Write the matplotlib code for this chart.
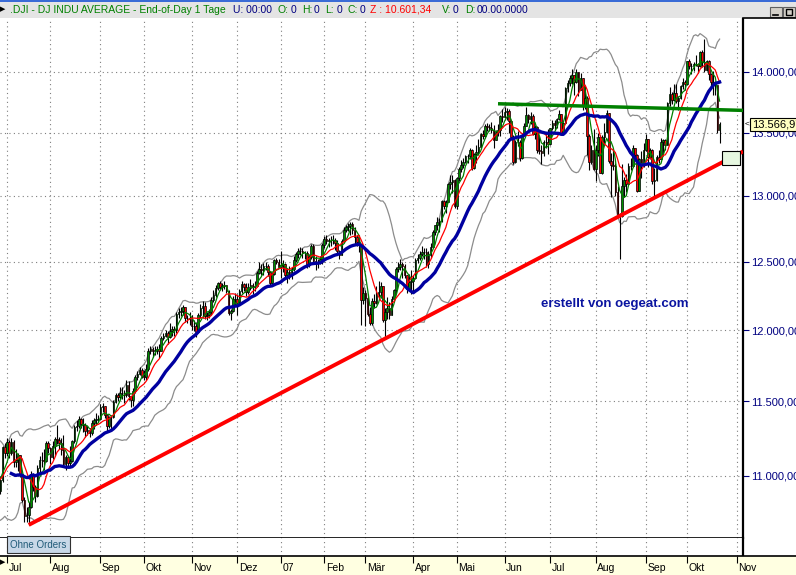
import numpy as np
import pandas as pd
import matplotlib
matplotlib.use('Agg')
import matplotlib.pyplot as plt
import matplotlib.transforms as mtransforms
from matplotlib.patches import Rectangle
from matplotlib.lines import Line2D
from matplotlib.ticker import FixedLocator, FixedFormatter, NullLocator, NullFormatter

plt.rcParams['font.family'] = ['Liberation Sans', 'DejaVu Sans']

W, H = 796, 575

# NYSE holidays in the range (trading-day axis)
holidays = ['2006-07-04', '2006-09-04', '2006-11-23', '2006-12-25', '2007-01-01', '2007-01-02',
            '2007-01-15', '2007-02-19', '2007-04-06', '2007-05-28', '2007-07-04', '2007-09-03']
first_day = '2006-06-01'

# daily OHLC, one row per month (Jun 2006 .. 22 Oct 2007)
opens = [
    11168, 11260, 11247, 11061, 11002, 10931, 10938, 10891, 10792, 10706, 10816, 11015, 10891, 10942, 10974, 11079, 10990, 10989, 11045, 10903, 10973, 11190,
    11150, 11228, 11151, 11226, 11090, 11103, 11135, 11013, 10846, 10739, 10747, 10799, 11011, 10928, 10868, 11051, 11103, 11102, 11100, 11219,
    11185, 11125, 11199, 11242, 11240, 11220, 11173, 11076, 11124, 11088, 11097, 11230, 11327, 11334, 11381, 11345, 11339, 11297, 11304, 11284, 11352, 11370, 11382,
    11381, 11464, 11469, 11406, 11331, 11392, 11396, 11498, 11543, 11527, 11560, 11556, 11541, 11613, 11534, 11508, 11575, 11669, 11689, 11718,
    11679, 11670, 11727, 11851, 11867, 11851, 11857, 11867, 11852, 11947, 11961, 11980, 11950, 11993, 12011, 12003, 12116, 12127, 12134, 12164, 12090, 12087,
    12081, 12032, 12032, 11986, 12105, 12156, 12176, 12103, 12109, 12132, 12218, 12251, 12305, 12342, 12316, 12321, 12327, 12280, 12121, 12136, 12226,
    12221, 12194, 12283, 12331, 12310, 12278, 12307, 12329, 12315, 12317, 12416, 12446, 12441, 12471, 12464, 12421, 12343, 12407, 12510, 12501,
    12463, 12474, 12480, 12398, 12423, 12416, 12442, 12514, 12556, 12582, 12577, 12567, 12565, 12477, 12533, 12621, 12502, 12487, 12491, 12523,
    12622, 12673, 12653, 12661, 12666, 12666, 12637, 12581, 12552, 12654, 12741, 12765, 12768, 12786, 12738, 12686, 12647, 12632, 12216,
    12268, 12234, 12114, 12050, 12207, 12192, 12260, 12276, 12318, 12075, 12133, 12159, 12110, 12226, 12288, 12447, 12461, 12481, 12469, 12398, 12300, 12348,
    12354, 12382, 12511, 12530, 12560, 12569, 12573, 12484, 12553, 12612, 12720, 12773, 12803, 12808, 12961, 12919, 12953, 13089, 13105, 13121,
    12921, 13136, 13211, 13241, 13265, 13313, 13310, 13362, 13215, 13327, 13346, 13383, 13487, 13476, 13556, 13542, 13539, 13522, 13441, 13507, 13521, 13633,
    13628, 13668, 13677, 13596, 13467, 13267, 13425, 13424, 13295, 13482, 13554, 13640, 13612, 13635, 13489, 13546, 13361, 13353, 13338, 13427, 13422,
    13409, 13535, 13577, 13566, 13611, 13649, 13501, 13577, 13861, 13908, 13951, 13972, 13918, 14000, 13851, 13944, 13717, 13786, 13474, 13266, 13359,
    13212, 13362, 13463, 13182, 13469, 13504, 13658, 13271, 13240, 13237, 13029, 12862, 12846, 13079, 13122, 13091, 13237, 13236, 13379, 13322, 13041, 13289, 13239,
    13358, 13449, 13306, 13364, 13113, 13127, 13308, 13292, 13424, 13442, 13403, 13739, 13816, 13766, 13821, 13759, 13779, 13878, 13913,
    13896, 14088, 14047, 14044, 14066, 14066, 14044, 14165, 14078, 14015, 14093, 13985, 13913, 13893, 13889, 13522,
]
highs = [
    11290, 11320, 11260, 11080, 11030, 10990, 10960, 10900, 10810, 10840, 11040, 11030, 10990, 11010, 11110, 11090, 11030, 11070, 11060, 11000, 11200, 11220,
    11250, 11240, 11250, 11240, 11180, 11150, 11140, 11020, 10860, 10800, 10830, 11030, 11020, 10940, 11070, 11130, 11160, 11180, 11230, 11230,
    11190, 11230, 11260, 11340, 11260, 11250, 11270, 11140, 11130, 11200, 11240, 11340, 11370, 11400, 11390, 11390, 11350, 11330, 11320, 11370, 11390, 11420, 11410,
    11480, 11490, 11470, 11410, 11400, 11410, 11510, 11560, 11560, 11600, 11600, 11580, 11650, 11640, 11540, 11590, 11680, 11710, 11740, 11730,
    11720, 11760, 11870, 11890, 11880, 11890, 11890, 11900, 11960, 11980, 12000, 11990, 12050, 12030, 12030, 12130, 12160, 12170, 12180, 12170, 12110, 12130,
    12110, 12070, 12060, 12120, 12190, 12210, 12200, 12130, 12150, 12240, 12290, 12330, 12350, 12360, 12340, 12360, 12330, 12290, 12150, 12250, 12270,
    12260, 12300, 12360, 12340, 12340, 12340, 12370, 12340, 12360, 12430, 12500, 12480, 12490, 12500, 12480, 12420, 12420, 12520, 12530, 12520,
    12580, 12510, 12490, 12450, 12470, 12460, 12540, 12570, 12600, 12610, 12600, 12580, 12580, 12560, 12630, 12630, 12540, 12520, 12540, 12640,
    12690, 12700, 12680, 12690, 12700, 12680, 12660, 12590, 12670, 12760, 12780, 12790, 12800, 12800, 12760, 12700, 12700, 12640, 12310,
    12290, 12260, 12170, 12230, 12260, 12320, 12360, 12350, 12320, 12160, 12240, 12200, 12250, 12300, 12460, 12500, 12520, 12500, 12480, 12400, 12410, 12440,
    12400, 12530, 12560, 12580, 12620, 12600, 12600, 12580, 12640, 12740, 12780, 12840, 12830, 12970, 12970, 12970, 13100, 13160, 13160, 13130,
    13150, 13230, 13280, 13300, 13320, 13330, 13380, 13370, 13340, 13400, 13450, 13500, 13520, 13570, 13580, 13570, 13590, 13560, 13520, 13570, 13640, 13690,
    13710, 13700, 13690, 13600, 13480, 13440, 13510, 13440, 13500, 13580, 13710, 13650, 13670, 13650, 13560, 13550, 13470, 13400, 13440, 13500, 13530,
    13540, 13600, 13600, 13620, 13680, 13650, 13590, 13870, 13930, 13970, 14020, 13970, 14020, 14000, 13990, 13950, 13890, 13800, 13490, 13400, 13530,
    13400, 13500, 13480, 13480, 13580, 13680, 13660, 13340, 13380, 13260, 13080, 12870, 13250, 13150, 13170, 13260, 13300, 13400, 13380, 13330, 13300, 13350, 13420,
    13490, 13450, 13380, 13370, 13220, 13320, 13360, 13460, 13450, 13450, 13750, 13870, 13830, 13900, 13900, 13800, 13890, 13950, 13930,
    14090, 14110, 14070, 14080, 14140, 14070, 14170, 14180, 14280, 14100, 14100, 13990, 14010, 13920, 13890, 13590,
]
lows = [
    11150, 11200, 11040, 10960, 10900, 10870, 10860, 10770, 10680, 10690, 10800, 10870, 10870, 10920, 10960, 10970, 10950, 10970, 10890, 10880, 10960, 11120,
    11130, 11120, 11140, 11060, 11060, 11030, 10990, 10830, 10700, 10700, 10683, 10790, 10900, 10830, 10860, 11020, 11060, 11040, 11090, 11150,
    11080, 11110, 11130, 11210, 11180, 11140, 11060, 11040, 11050, 11060, 11090, 11220, 11300, 11320, 11320, 11290, 11260, 11270, 11260, 11270, 11310, 11340, 11360,
    11370, 11430, 11390, 11300, 11320, 11300, 11390, 11490, 11500, 11520, 11520, 11490, 11530, 11510, 11460, 11470, 11560, 11650, 11680, 11660,
    11650, 11650, 11710, 11830, 11810, 11820, 11830, 11800, 11850, 11930, 11950, 11900, 11940, 11960, 11960, 11980, 12090, 12100, 12110, 12060, 12050, 12040,
    12000, 11990, 11950, 11980, 12090, 12090, 12080, 12070, 12090, 12110, 12200, 12240, 12290, 12290, 12280, 12300, 12270, 12110, 12070, 12130, 12180,
    12110, 12180, 12270, 12280, 12250, 12260, 12290, 12260, 12280, 12310, 12410, 12400, 12400, 12440, 12390, 12330, 12320, 12400, 12480, 12450,
    12380, 12420, 12370, 12340, 12370, 12370, 12430, 12500, 12530, 12550, 12530, 12520, 12450, 12460, 12520, 12480, 12440, 12450, 12480, 12480,
    12600, 12630, 12610, 12620, 12630, 12590, 12560, 12520, 12550, 12640, 12720, 12730, 12700, 12710, 12630, 12620, 12570, 12040, 12190,
    12030, 12100, 12040, 12040, 12160, 12190, 12230, 12230, 12060, 11940, 12080, 12080, 12110, 12200, 12270, 12420, 12440, 12380, 12380, 12270, 12280, 12260,
    12280, 12370, 12490, 12510, 12540, 12520, 12460, 12450, 12530, 12610, 12700, 12740, 12720, 12800, 12900, 12870, 12950, 13050, 13020, 12910,
    12900, 13120, 13190, 13220, 13260, 13260, 13290, 13200, 13210, 13260, 13320, 13370, 13450, 13460, 13510, 13510, 13500, 13380, 13440, 13470, 13470, 13590,
    13620, 13600, 13500, 13450, 13250, 13260, 13390, 13270, 13290, 13470, 13550, 13580, 13570, 13480, 13450, 13340, 13330, 13250, 13310, 13380, 13330,
    13400, 13520, 13520, 13540, 13600, 13480, 13490, 13570, 13830, 13880, 13900, 13810, 13910, 13800, 13850, 13680, 13690, 13320, 13200, 13250, 13200,
    13120, 13310, 13180, 13170, 13400, 13500, 13260, 12990, 13200, 13000, 12840, 12518, 12840, 12990, 13030, 13090, 13200, 13230, 13300, 13030, 13040, 13140, 13230,
    13350, 13230, 13290, 13090, 12990, 13120, 13260, 13290, 13310, 13360, 13400, 13720, 13730, 13760, 13740, 13680, 13770, 13860, 13850,
    13890, 14020, 13980, 14010, 14050, 13990, 14040, 14040, 14000, 14010, 13930, 13870, 13810, 13810, 13500, 13420,
]
closes = [
    11260, 11247, 11061, 11002, 10931, 10938, 10891, 10792, 10706, 10816, 11015, 10891, 10942, 10974, 11079, 10990, 10989, 11045, 10903, 10973, 11190, 11150,
    11228, 11151, 11226, 11090, 11103, 11135, 11013, 10846, 10739, 10747, 10799, 11011, 10928, 10868, 11051, 11103, 11102, 11100, 11219, 11185,
    11125, 11199, 11242, 11240, 11220, 11173, 11076, 11124, 11088, 11097, 11230, 11327, 11334, 11381, 11345, 11339, 11297, 11304, 11284, 11352, 11370, 11382, 11381,
    11464, 11469, 11406, 11331, 11392, 11396, 11498, 11543, 11527, 11560, 11556, 11541, 11613, 11534, 11508, 11575, 11669, 11689, 11718, 11679,
    11670, 11727, 11851, 11867, 11851, 11857, 11867, 11852, 11947, 11961, 11980, 11950, 11993, 12011, 12003, 12116, 12127, 12134, 12164, 12090, 12087, 12081,
    12032, 12032, 11986, 12105, 12156, 12176, 12103, 12109, 12132, 12218, 12251, 12305, 12342, 12316, 12321, 12327, 12280, 12121, 12136, 12226, 12221,
    12194, 12283, 12331, 12310, 12278, 12307, 12329, 12315, 12317, 12416, 12446, 12441, 12471, 12464, 12421, 12343, 12407, 12510, 12501, 12463,
    12474, 12480, 12398, 12423, 12416, 12442, 12514, 12556, 12582, 12577, 12567, 12565, 12477, 12533, 12621, 12502, 12487, 12491, 12523, 12622,
    12673, 12653, 12661, 12666, 12666, 12637, 12581, 12552, 12654, 12741, 12765, 12768, 12786, 12738, 12686, 12647, 12632, 12216, 12268,
    12234, 12114, 12050, 12207, 12192, 12260, 12276, 12318, 12075, 12133, 12159, 12110, 12226, 12288, 12447, 12461, 12481, 12469, 12398, 12300, 12348, 12354,
    12382, 12511, 12530, 12560, 12569, 12573, 12484, 12553, 12612, 12720, 12773, 12803, 12808, 12961, 12919, 12953, 13089, 13105, 13121, 12921,
    13136, 13211, 13241, 13265, 13313, 13310, 13362, 13215, 13327, 13346, 13383, 13487, 13476, 13556, 13542, 13539, 13522, 13441, 13507, 13521, 13633, 13628,
    13668, 13677, 13596, 13467, 13267, 13425, 13424, 13295, 13482, 13554, 13640, 13612, 13635, 13489, 13546, 13361, 13353, 13338, 13427, 13422, 13409,
    13535, 13577, 13566, 13611, 13649, 13501, 13577, 13861, 13908, 13951, 13972, 13918, 14000, 13851, 13944, 13717, 13786, 13474, 13266, 13359, 13212,
    13362, 13463, 13182, 13469, 13504, 13658, 13271, 13240, 13237, 13029, 12862, 12846, 13079, 13122, 13091, 13237, 13236, 13379, 13322, 13041, 13289, 13239, 13358,
    13449, 13306, 13364, 13113, 13127, 13308, 13292, 13424, 13442, 13403, 13739, 13816, 13766, 13821, 13759, 13779, 13878, 13913, 13896,
    14088, 14047, 14044, 14066, 14066, 14044, 14165, 14078, 14015, 14093, 13985, 13913, 13893, 13889, 13522, 13567,
]

month_labels = ['Jul', 'Aug', 'Sep', 'Okt', 'Nov', 'Dez', '07', 'Feb', 'Mär', 'Apr', 'Mai',
                'Jun', 'Jul', 'Aug', 'Sep', 'Okt', 'Nov']
yticks = [11000, 11500, 12000, 12500, 13000, 13500, 14000]
ytick_labels = ['11.000,00', '11.500,00', '12.000,00', '12.500,00', '13.000,00', '13.500,00', '14.000,00']
y_range = (10600, 14456)

# moving-average periods (fast green, mid red, slow blue) and Bollinger period
ma_fast, ma_mid, ma_slow, bb_len = 5, 10, 25, 20

# drawn lines (anchor points)
trend_dates = ['2006-07-18', '2007-03-14']
trend_values = [10683, 11939]
resist_dates = ['2007-05-29', '2007-10-22']
resist_values = [13735, 13686]
last_label = '13.566,97'

header_parts = [
    (10, '.DJI - DJ INDU AVERAGE - End-of-Day 1 Tage', '#008000'),
    (233, 'U: 00:00', '#000080'),
    (278, 'O:', '#008000'), (291, '0', '#000080'),
    (302, 'H:', '#008000'), (314, '0', '#000080'),
    (325, 'L:', '#008000'), (337, '0', '#000080'),
    (348, 'C:', '#008000'), (360, '0', '#000080'),
    (370, 'Z : 10.601,34', '#FF0000'),
    (442, 'V:', '#008000'), (453, '0', '#000080'),
    (465, 'D:', '#008000'), (477, '00.00.0000', '#000080'),
]

assert len(opens) == len(highs) == len(lows) == len(closes)


def fx(px):
    return px / W


def fy(py):
    return 1 - py / H


# trading-day index
days = pd.bdate_range(first_day, '2007-11-30', freq='C', holidays=holidays)
pos = pd.Series(np.arange(len(days)), index=days)
per = days.to_period('M')
month_first = pos.groupby(per).min()
month_first = month_first[(month_first.index >= pd.Period('2006-07', 'M')) &
                          (month_first.index <= pd.Period('2007-11', 'M'))]
tick_idx = month_first.values.astype(float)

ppd = (737 - 7) / (tick_idx[-1] - tick_idx[0])
x_left = tick_idx[0] - 7 / ppd
x_right = x_left + 743 / ppd

n = len(closes)
x = np.arange(n)
o = np.array(opens, float)
h = np.array(highs, float)
l = np.array(lows, float)
c = np.array(closes, float)

s = pd.Series(c)
ma_g = s.rolling(ma_fast).mean()
ma_r = s.rolling(ma_mid).mean()
ma_b = s.rolling(ma_slow).mean()
mid = s.rolling(bb_len).mean()
sd = s.rolling(bb_len).std(ddof=0)
bb_up = mid + 2 * sd
bb_lo = mid - 2 * sd

fig = plt.figure(figsize=(W / 100, H / 100), dpi=100)
fig.patch.set_facecolor('white')

ax = fig.add_axes([0, fy(538), fx(743), (538 - 18) / H])
axo = fig.add_axes([0, fy(556), fx(743), 18 / H])
axb = fig.add_axes([0, 0, 1, (H - 556) / H])

grid_kw = dict(color='#7f7f7f', linestyle=(0, (1, 3)), linewidth=0.8)

# ---- price panel
ax.set_yscale('log')
ax.set_xlim(x_left, x_right)
ax.set_ylim(*y_range)
ax.set_axisbelow(True)

ax.plot(x, bb_up, color='#8c8c8c', lw=0.9, zorder=1.5)
ax.plot(x, bb_lo, color='#8c8c8c', lw=0.9, zorder=1.5)

up = c > o
col = np.where(up, '#009000', '#FF0000')
ax.vlines(x, l, h, color='black', lw=0.8, zorder=2)
ax.bar(x, np.abs(c - o), bottom=np.minimum(o, c), width=0.75, color=col,
       edgecolor='black', linewidth=0.5, zorder=3)

ax.plot(x, ma_g, color='#008000', lw=0.9, zorder=4)
ax.plot(x, ma_r, color='#FF0000', lw=0.9, zorder=4)
ax.plot(x, ma_b, color='#0000A0', lw=2.4, zorder=5)

# trend line (log-linear through two lows, extended to the edge)
ti = [pos[pd.Timestamp(d)] for d in trend_dates]
slope = (np.log(trend_values[1]) - np.log(trend_values[0])) / (ti[1] - ti[0])
tx = np.array([ti[0], x_right])
ty = np.exp(np.log(trend_values[0]) + slope * (tx - ti[0]))
ax.plot(tx, ty, color='#FF0000', lw=2.8, zorder=6, solid_capstyle='butt')

ri = [pos[pd.Timestamp(d)] for d in resist_dates]
rslope = (np.log(resist_values[1]) - np.log(resist_values[0])) / (ri[1] - ri[0])
rx = np.array([ri[0], x_right])
ry = np.exp(np.log(resist_values[0]) + rslope * (rx - ri[0]))
ax.plot(rx, ry, color='#008000', lw=2.5, zorder=6, solid_capstyle='butt')

# handle box at the end of the trend line
kpx = (538 - 18) / np.log(y_range[1] / y_range[0])
ax.add_patch(Rectangle((x_right - 21 / ppd, ty[-1] * np.exp(-14 / kpx)), 18 / ppd,
                       ty[-1] - ty[-1] * np.exp(-14 / kpx), facecolor='#E6F7E0',
                       edgecolor='black', lw=0.8, zorder=7))

ax.set_xticks(tick_idx)
ax.xaxis.set_major_formatter(NullFormatter())
ax.tick_params(axis='x', length=0)
ax.yaxis.set_major_locator(FixedLocator(yticks))
ax.yaxis.set_minor_locator(NullLocator())
ax.yaxis.set_major_formatter(FixedFormatter(ytick_labels))
ax.yaxis.set_minor_formatter(NullFormatter())
ax.yaxis.tick_right()
ax.tick_params(axis='y', colors='#000080', length=4, width=0.8, pad=2, labelsize=8)
ax.grid(True, **grid_kw)
for side in ('left', 'top'):
    ax.spines[side].set_visible(False)
ax.spines['right'].set_linewidth(1.6)
ax.spines['bottom'].set_linewidth(1.2)

ax.text(541 / 743, 1 - (304 - 18) / 520, 'erstellt von oegeat.com', transform=ax.transAxes,
        color='#0A14A0', fontsize=9.5, fontweight='bold', va='center', ha='left')

trans = mtransforms.blended_transform_factory(ax.transAxes, ax.transData)
ax.text(752 / 743, c[-1], last_label, transform=trans, fontsize=8, color='black',
        va='center', ha='left', clip_on=False, zorder=10,
        bbox=dict(boxstyle='square,pad=0.15', facecolor='#FFFFC0', edgecolor='black', lw=0.8))
ax.text(744.5 / 743, c[-1], '<', transform=trans, fontsize=6, color='black',
        va='center', ha='left', clip_on=False, zorder=10)

# ---- order panel
axo.set_xlim(x_left, x_right)
axo.set_ylim(0, 1)
axo.set_xticks(tick_idx)
axo.xaxis.set_major_formatter(NullFormatter())
axo.set_yticks([])
axo.tick_params(axis='x', length=0)
axo.grid(True, axis='x', **grid_kw)
for side in ('left', 'top', 'bottom'):
    axo.spines[side].set_visible(False)
axo.spines['right'].set_linewidth(1.6)
fig.text(fx(10), fy(544.5), 'Ohne Orders', fontsize=7, color='#1F5A78', va='center', ha='left',
         bbox=dict(boxstyle='square,pad=0.35', facecolor='#C8D8E8', edgecolor='#303030', lw=0.8))

# ---- date band
axb.set_facecolor('#FFFFE1')
axb.set_xlim(x_left, x_left + W / ppd)
axb.set_ylim(0, 1)
axb.set_xticks([])
axb.set_yticks([])
for side in ('left', 'right', 'bottom'):
    axb.spines[side].set_visible(False)
axb.spines['top'].set_linewidth(1.2)
axb.vlines(tick_idx, 0.62, 1.0, color='black', lw=0.8)
for t, lab in zip(tick_idx, month_labels):
    axb.text(t + 1.5 / ppd, 0.36, lab, fontsize=7.5, color='black', va='center', ha='left')
fig.text(0, fy(563), '\u25B6', fontsize=5, va='center', ha='left', color='black')

# ---- header bar
fig.add_artist(Rectangle((0, fy(18)), 1, 18 / H, transform=fig.transFigure,
                         facecolor='#E4E4E4', edgecolor='none'))
fig.add_artist(Rectangle((0, fy(2)), 1, 2 / H, transform=fig.transFigure,
                         facecolor='#3A6BD6', edgecolor='none'))
for px, txt, colr in header_parts:
    fig.text(fx(px), fy(10), txt, fontsize=7.5, color=colr, va='center', ha='left')
fig.text(0, fy(10), '\u25B6', fontsize=5, va='center', ha='left', color='black')
for bx in (770, 783):
    fig.add_artist(Rectangle((fx(bx), fy(17)), 12 / W, 10 / H, transform=fig.transFigure,
                             facecolor='#D4D0C8', edgecolor='#606060', lw=0.8))
fig.add_artist(Line2D([fx(773), fx(778)], [fy(14.5), fy(14.5)], color='black', lw=1.2))
fig.add_artist(Rectangle((fx(786), fy(15)), 6 / W, 6 / H, transform=fig.transFigure,
                         facecolor='none', edgecolor='black', lw=1.0))
fig.add_artist(Line2D([fx(743), 1], [fy(18), fy(18)], color='black', lw=1.2))

fig.savefig('out.png', dpi=100)
